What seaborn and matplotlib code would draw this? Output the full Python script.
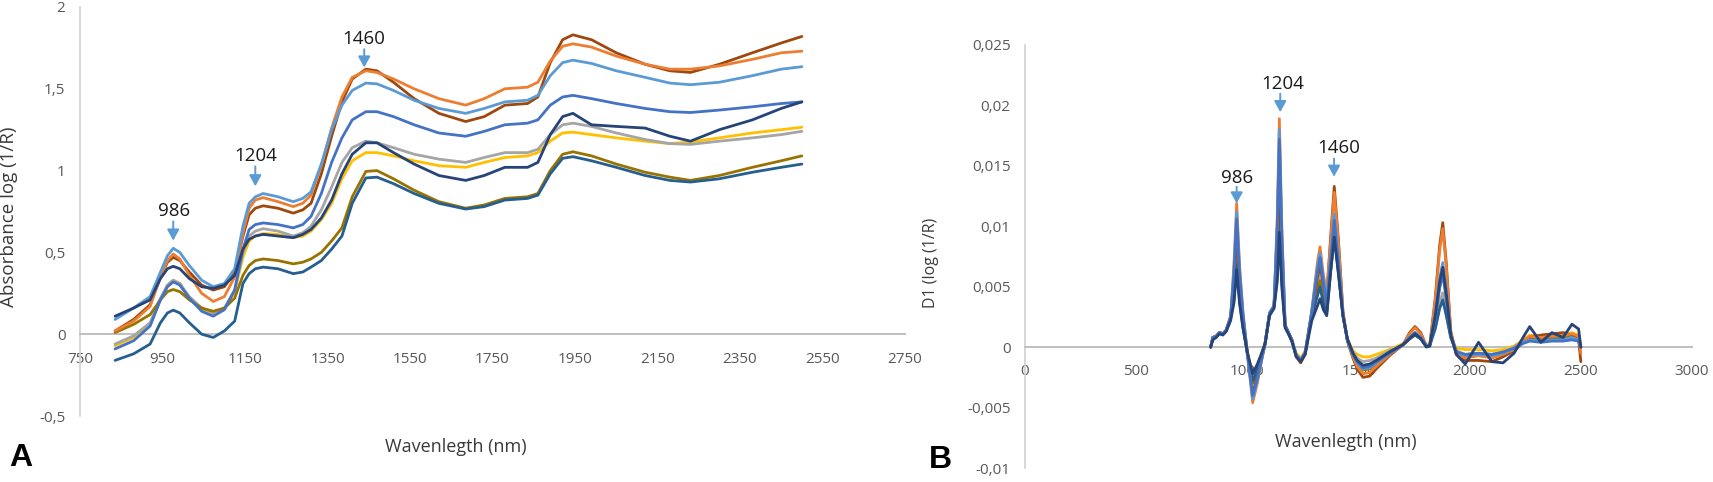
import matplotlib
matplotlib.use('Agg')
import matplotlib.pyplot as plt
import seaborn as sns
import pandas as pd

# ---- panel A: absorbance spectra ----
wl_a = [835, 880, 920, 945, 962, 976, 992, 1015, 1045, 1073, 1100, 1125, 1145, 1160, 1175, 1194,
        1230, 1267, 1290, 1310, 1335, 1360, 1385, 1410, 1443, 1470, 1510, 1560, 1620, 1685, 1730,
        1780, 1835, 1860, 1890, 1920, 1945, 1990, 2050, 2120, 2180, 2230, 2300, 2380, 2450, 2500]

a_lightblue = [0.09, 0.16, 0.23, 0.38, 0.48, 0.525, 0.50, 0.42, 0.33, 0.29, 0.31, 0.40, 0.66, 0.80, 0.84, 0.86,
               0.84, 0.81, 0.83, 0.87, 1.04, 1.25, 1.40, 1.49, 1.535, 1.53, 1.49, 1.43, 1.38, 1.35, 1.38,
               1.42, 1.43, 1.46, 1.58, 1.66, 1.675, 1.655, 1.61, 1.57, 1.535, 1.525, 1.54, 1.58, 1.62, 1.635]
a_orange = [0.02, 0.08, 0.17, 0.35, 0.45, 0.49, 0.46, 0.36, 0.25, 0.20, 0.23, 0.35, 0.62, 0.77, 0.82, 0.835,
            0.81, 0.78, 0.80, 0.85, 1.03, 1.26, 1.45, 1.57, 1.61, 1.60, 1.56, 1.50, 1.44, 1.40, 1.44,
            1.50, 1.51, 1.54, 1.67, 1.76, 1.775, 1.755, 1.70, 1.65, 1.62, 1.62, 1.64, 1.68, 1.72, 1.73]
a_darkred = [0.02, 0.09, 0.18, 0.35, 0.44, 0.47, 0.45, 0.38, 0.30, 0.27, 0.29, 0.38, 0.60, 0.73, 0.77, 0.785,
             0.77, 0.74, 0.76, 0.80, 0.98, 1.21, 1.42, 1.56, 1.62, 1.61, 1.54, 1.44, 1.35, 1.30, 1.33,
             1.40, 1.41, 1.45, 1.66, 1.80, 1.83, 1.80, 1.72, 1.65, 1.61, 1.60, 1.65, 1.72, 1.78, 1.82]
a_blue = [-0.09, -0.04, 0.05, 0.21, 0.29, 0.32, 0.30, 0.22, 0.14, 0.11, 0.15, 0.27, 0.52, 0.64, 0.67, 0.68,
          0.67, 0.65, 0.67, 0.72, 0.86, 1.05, 1.20, 1.31, 1.36, 1.36, 1.33, 1.28, 1.23, 1.21, 1.24,
          1.28, 1.29, 1.31, 1.40, 1.45, 1.46, 1.44, 1.41, 1.38, 1.36, 1.355, 1.37, 1.39, 1.41, 1.42]
a_navy = [0.11, 0.16, 0.21, 0.34, 0.40, 0.415, 0.40, 0.34, 0.29, 0.28, 0.30, 0.36, 0.52, 0.58, 0.60, 0.61,
          0.60, 0.59, 0.61, 0.64, 0.71, 0.82, 0.98, 1.10, 1.17, 1.17, 1.11, 1.04, 0.97, 0.94, 0.97,
          1.02, 1.02, 1.05, 1.22, 1.33, 1.35, 1.28, 1.27, 1.26, 1.21, 1.18, 1.25, 1.31, 1.38, 1.42]
a_gray = [-0.06, -0.01, 0.07, 0.22, 0.30, 0.33, 0.31, 0.23, 0.16, 0.13, 0.16, 0.27, 0.50, 0.60, 0.63, 0.645,
          0.63, 0.60, 0.62, 0.66, 0.76, 0.90, 1.05, 1.14, 1.18, 1.17, 1.14, 1.10, 1.07, 1.05, 1.08,
          1.11, 1.11, 1.13, 1.22, 1.28, 1.29, 1.27, 1.23, 1.19, 1.165, 1.16, 1.18, 1.20, 1.22, 1.24]
a_gold = [-0.07, -0.02, 0.06, 0.21, 0.30, 0.33, 0.31, 0.22, 0.15, 0.12, 0.15, 0.26, 0.47, 0.57, 0.60, 0.615,
          0.61, 0.59, 0.60, 0.63, 0.70, 0.80, 0.95, 1.06, 1.11, 1.11, 1.09, 1.06, 1.03, 1.02, 1.05,
          1.08, 1.09, 1.11, 1.18, 1.23, 1.235, 1.22, 1.20, 1.18, 1.165, 1.175, 1.20, 1.23, 1.25, 1.265]
a_olive = [0.01, 0.06, 0.12, 0.21, 0.26, 0.273, 0.26, 0.21, 0.16, 0.14, 0.16, 0.22, 0.36, 0.42, 0.45, 0.46,
           0.45, 0.43, 0.44, 0.46, 0.50, 0.57, 0.65, 0.84, 0.995, 1.00, 0.95, 0.88, 0.81, 0.77, 0.79,
           0.83, 0.84, 0.86, 1.00, 1.10, 1.115, 1.09, 1.04, 0.99, 0.96, 0.94, 0.97, 1.02, 1.06, 1.09]
a_steel = [-0.16, -0.12, -0.06, 0.07, 0.13, 0.147, 0.13, 0.07, 0.00, -0.02, 0.02, 0.08, 0.31, 0.37, 0.40, 0.41,
           0.40, 0.37, 0.38, 0.41, 0.45, 0.52, 0.60, 0.80, 0.955, 0.96, 0.92, 0.86, 0.80, 0.765, 0.78,
           0.82, 0.83, 0.85, 0.98, 1.075, 1.085, 1.06, 1.02, 0.97, 0.94, 0.93, 0.95, 0.99, 1.02, 1.04]

# ---- panel B: first derivative ----
wl_b = [835, 845, 860, 875, 890, 905, 925, 940, 952, 965, 980, 1000, 1024, 1045, 1060, 1080, 1100,
        1120, 1135, 1144, 1155, 1170, 1185, 1200, 1220, 1240, 1260, 1290, 1315, 1327, 1342, 1357,
        1375, 1391, 1410, 1430, 1450, 1475, 1494, 1520, 1550, 1580, 1640, 1700, 1730, 1754, 1780,
        1805, 1820, 1845, 1865, 1879, 1895, 1915, 1940, 1980, 2040, 2100, 2150, 2200, 2240, 2270,
        2320, 2370, 2420, 2460, 2490, 2500]

b_orange = [0.0, .0008, .0009, .0012, .0011, .0014, .0025, .0069, .0119, .0068, .0030, -.0005, -.0046, -.0030,
            -.0015, .0003, .0028, .0034, .0110, .0189, .0100, .0018, .0012, .0006, -.0007, -.0011, -.0005,
            .0030, .0070, .0083, .0060, .0045, .0088, .0128, .0085, .0028, .0006, -.0008, -.0016, -.0022,
            -.0021, -.0016, -.0006, .0002, .0011, .0016, .0011, .0001, .0001, .0038, .0080, .0098, .0066,
            .0012, -.0005, -.0009, -.0007, -.0009, -.0006, -.0002, .0005, .0009, .0008, .0009, .0010, .0011,
            .0009, -.0005]
b_darkred = [0.0, .0008, .0009, .0012, .0011, .0014, .0025, .0055, .0095, .0054, .0024, -.0005, -.0038, -.0025,
             -.0013, .0003, .0028, .0034, .0084, .0145, .0077, .0018, .0012, .0006, -.0008, -.0013, -.0006,
             .0028, .0057, .0068, .0052, .0042, .0092, .0133, .0088, .0030, .0005, -.0009, -.0018, -.0025,
             -.0024, -.0018, -.0007, .0002, .0012, .0017, .0012, .0001, .0001, .0040, .0084, .0103, .0069,
             .0013, -.0006, -.0011, -.0011, -.0012, -.0008, -.0003, .0004, .0008, .0010, .0011, .0012, .0010,
             .0006, -.0012]
b_lightblue = [0.0, .0008, .0009, .0012, .0011, .0014, .0025, .0065, .0112, .0064, .0028, -.0005, -.0043, -.0028,
               -.0014, .0003, .0028, .0034, .0104, .0180, .0095, .0018, .0012, .0006, -.0007, -.0011, -.0005,
               .0030, .0066, .0078, .0056, .0040, .0076, .0110, .0073, .0027, .0006, -.0006, -.0013, -.0018,
               -.0017, -.0013, -.0005, .0002, .0008, .0012, .0008, .0001, .0001, .0027, .0057, .0070, .0047,
               .0010, -.0004, -.0007, -.0006, -.0007, -.0005, -.0001, .0004, .0006, .0005, .0006, .0006, .0008,
               .0006, 0.0]
b_blue = [0.0, .0008, .0009, .0012, .0011, .0014, .0025, .0061, .0106, .0060, .0027, -.0005, -.0040, -.0026,
          -.0013, .0003, .0028, .0034, .0100, .0172, .0091, .0018, .0012, .0006, -.0007, -.0011, -.0005,
          .0029, .0062, .0074, .0053, .0035, .0072, .0105, .0069, .0026, .0006, -.0006, -.0012, -.0017,
          -.0016, -.0012, -.0005, .0002, .0008, .0012, .0008, .0001, .0001, .0023, .0049, .0060, .0040,
          .0009, -.0004, -.0006, -.0005, -.0006, -.0004, -.0001, .0003, .0005, .0004, .0005, .0005, .0006,
          .0005, 0.0]
b_navy = [0.0, .0006, .0008, .0011, .0010, .0013, .0022, .0037, .0064, .0036, .0016, -.0004, -.0022, -.0014,
          -.0007, .0003, .0026, .0032, .0055, .0095, .0050, .0016, .0011, .0005, -.0008, -.0012, -.0006,
          .0022, .0034, .0040, .0031, .0026, .0063, .0091, .0060, .0026, .0007, -.0005, -.0011, -.0015,
          -.0014, -.0011, -.0004, .0002, .0007, .0011, .0007, .0000, .0001, .0026, .0054, .0066, .0044,
          .0010, -.0006, -.0014, .0004, -.0012, -.0013, -.0005, .0008, .0017, .0004, .0012, .0008, .0019,
          .0015, 0.0]
b_gray = [0.0, .0008, .0009, .0012, .0011, .0014, .0025, .0049, .0085, .0048, .0021, -.0005, -.0030, -.0020,
          -.0010, .0003, .0028, .0034, .0073, .0125, .0066, .0018, .0012, .0006, -.0006, -.0010, -.0004,
          .0028, .0052, .0062, .0045, .0032, .0066, .0095, .0063, .0026, .0006, -.0004, -.0009, -.0012,
          -.0011, -.0009, -.0003, .0002, .0007, .0010, .0007, .0001, .0001, .0018, .0037, .0045, .0030,
          .0008, -.0003, -.0006, -.0005, -.0006, -.0004, .0000, .0005, .0008, .0007, .0008, .0008, .0009,
          .0007, 0.0]
b_gold = [0.0, .0008, .0009, .0012, .0011, .0014, .0025, .0046, .0080, .0046, .0020, -.0004, -.0024, -.0016,
          -.0008, .0004, .0028, .0034, .0070, .0120, .0064, .0018, .0012, .0006, -.0005, -.0009, -.0003,
          .0029, .0054, .0064, .0046, .0030, .0066, .0095, .0063, .0027, .0007, -.0003, -.0006, -.0008,
          -.0008, -.0006, -.0002, .0003, .0007, .0010, .0007, .0002, .0002, .0016, .0033, .0040, .0027,
          .0008, -.0001, -.0002, -.0002, -.0003, -.0002, .0001, .0006, .0010, .0009, .0010, .0010, .0012,
          .0010, .0002]
b_olive = [0.0, .0008, .0009, .0012, .0011, .0014, .0025, .0044, .0075, .0043, .0019, -.0005, -.0030, -.0020,
           -.0010, .0003, .0028, .0034, .0064, .0110, .0058, .0018, .0012, .0006, -.0007, -.0011, -.0005,
           .0027, .0046, .0055, .0042, .0033, .0069, .0100, .0066, .0027, .0006, -.0007, -.0014, -.0019,
           -.0018, -.0014, -.0005, .0002, .0007, .0011, .0007, .0001, .0001, .0024, .0051, .0062, .0042,
           .0010, -.0004, -.0008, -.0007, -.0008, -.0006, -.0002, .0004, .0007, .0006, .0007, .0007, .0009,
           .0007, 0.0]
b_steel = [0.0, .0008, .0009, .0012, .0011, .0014, .0025, .0039, .0068, .0039, .0017, -.0005, -.0028, -.0018,
           -.0009, .0003, .0027, .0033, .0061, .0105, .0056, .0017, .0011, .0005, -.0007, -.0011, -.0005,
           .0026, .0042, .0050, .0036, .0028, .0063, .0092, .0061, .0026, .0006, -.0006, -.0012, -.0016,
           -.0015, -.0012, -.0004, .0002, .0007, .0010, .0007, .0001, .0001, .0015, .0032, .0039, .0026,
           .0008, -.0004, -.0007, -.0006, -.0007, -.0005, -.0001, .0004, .0006, .0005, .0006, .0006, .0007,
           .0005, 0.0]

# drawing order (last = on top) and Excel-like colours
samples = ['gold', 'gray', 'olive', 'steel', 'darkred', 'orange', 'lightblue', 'blue', 'navy']
colors = {'gold': '#FFC000', 'gray': '#A5A5A5', 'olive': '#997300', 'steel': '#255E91',
          'darkred': '#9E480E', 'orange': '#ED7D31', 'lightblue': '#5B9BD5', 'blue': '#4472C4',
          'navy': '#264478'}
curves_a = {'gold': a_gold, 'gray': a_gray, 'olive': a_olive, 'steel': a_steel, 'darkred': a_darkred,
            'orange': a_orange, 'lightblue': a_lightblue, 'blue': a_blue, 'navy': a_navy}
curves_b = {'gold': b_gold, 'gray': b_gray, 'olive': b_olive, 'steel': b_steel, 'darkred': b_darkred,
            'orange': b_orange, 'lightblue': b_lightblue, 'blue': b_blue, 'navy': b_navy}

a_xticks = [750, 950, 1150, 1350, 1550, 1750, 1950, 2150, 2350, 2550, 2750]
a_yticks = [-0.5, 0, 0.5, 1, 1.5, 2]
a_ylabels = ['-0,5', '0', '0,5', '1', '1,5', '2']
b_xticks = [0, 500, 1000, 1500, 2000, 2500, 3000]
b_yticks = [-0.01, -0.005, 0, 0.005, 0.01, 0.015, 0.02, 0.025]
b_ylabels = ['-0,01', '-0,005', '0', '0,005', '0,01', '0,015', '0,02', '0,025']

# peak labels: text, text position, arrow start, arrow tip
peaks_a = [('986', 979, 0.75, 0.69, 0.572), ('1204', 1175, 1.088, 1.026, 0.904),
           ('1460', 1439, 1.804, 1.742, 1.63)]
peaks_b = [('986', 955, 0.01396, 0.01327, 0.01189), ('1204', 1160, 0.0218, 0.02097, 0.01944),
           ('1460', 1412, 0.01645, 0.0156, 0.0141)]


def long_frame(wl, curves):
    rows = []
    for name in samples:
        for x, y in zip(wl, curves[name]):
            rows.append({'wl': x, 'val': y, 'sample': name})
    return pd.DataFrame(rows)


sns.set_theme(style='white')
plt.rcParams['font.family'] = ['Open Sans', 'DejaVu Sans']

W, H = 1713, 482
fig = plt.figure(figsize=(W / 100, H / 100), dpi=100)
ax_a = fig.add_axes([80 / W, 1 - 416 / H, 825 / W, 409 / H])
ax_b = fig.add_axes([1025 / W, 1 - 468 / H, 667 / W, 423 / H])

for ax, wl, curves in [(ax_a, wl_a, curves_a), (ax_b, wl_b, curves_b)]:
    sns.lineplot(data=long_frame(wl, curves), x='wl', y='val', hue='sample', hue_order=samples,
                 palette=colors, estimator=None, sort=False, legend=False, linewidth=2.0, ax=ax)
    ax.set_xlabel('')
    ax.set_ylabel('')
    ax.set_axisbelow(True)
    for s in ['top', 'right']:
        ax.spines[s].set_visible(False)
    ax.spines['bottom'].set_position(('data', 0))
    ax.spines['bottom'].set_color('#BFBFBF')
    ax.spines['bottom'].set_linewidth(1.4)
    ax.spines['left'].set_color('#D0D0D0')
    ax.spines['left'].set_linewidth(1.2)
    for sp in ax.spines.values():
        sp.set_zorder(1)
    ax.tick_params(length=0, labelsize=11, labelcolor='#595959')
    ax.tick_params(axis='y', pad=10.5)

ax_a.set_xlim(750, 2750)
ax_a.set_ylim(-0.5, 2)
ax_a.set_xticks(a_xticks)
ax_a.set_yticks(a_yticks)
ax_a.set_yticklabels(a_ylabels)
ax_a.tick_params(axis='x', pad=13)

ax_b.set_xlim(0, 3000)
ax_b.set_ylim(-0.01, 0.025)
ax_b.set_xticks(b_xticks)
ax_b.set_yticks(b_yticks)
ax_b.set_yticklabels(b_ylabels)
ax_b.tick_params(axis='x', pad=12)

arrow = dict(arrowstyle='-|>,head_length=0.55,head_width=0.3', color='#5B9BD5', lw=1.4,
             mutation_scale=12, shrinkA=0, shrinkB=0)
for ax, peaks in [(ax_a, peaks_a), (ax_b, peaks_b)]:
    for label, x, ytxt, y0, y1 in peaks:
        ax.text(x, ytxt, label, ha='center', va='center', fontsize=13.5, color='#1a1a1a', zorder=5)
        xa = x if ax is ax_a else {'986': 952, '1204': 1148, '1460': 1390}[label]
        if ax is ax_a:
            xa = {'986': 976, '1204': 1175, '1460': 1439}[label]
        ax.annotate('', xy=(xa, y1), xytext=(xa, y0), arrowprops=arrow, zorder=5)

txt = '#3a3a3a'
fig.text(9.5 / W, 1 - 217 / H, 'Absorbance log (1/R)', rotation=90, ha='center', va='center',
         fontsize=13.5, color=txt)
fig.text(455.7 / W, 1 - 446.7 / H, 'Wavenlegth (nm)', ha='center', va='center', fontsize=13, color=txt)
fig.text(930.5 / W, 1 - 263 / H, 'D1 (log (1/R)', rotation=90, ha='center', va='center',
         fontsize=11.5, color=txt)
fig.text(1345.7 / W, 1 - 441.7 / H, 'Wavenlegth (nm)', ha='center', va='center', fontsize=13, color=txt)
fig.text(21 / W, 1 - 458 / H, 'A', ha='center', va='center', fontsize=23, weight='bold',
         family=['Liberation Sans', 'DejaVu Sans'], color='black')
fig.text(940 / W, 1 - 460 / H, 'B', ha='center', va='center', fontsize=23, weight='bold',
         family=['Liberation Sans', 'DejaVu Sans'], color='black')

fig.savefig('out.png', dpi=100)
